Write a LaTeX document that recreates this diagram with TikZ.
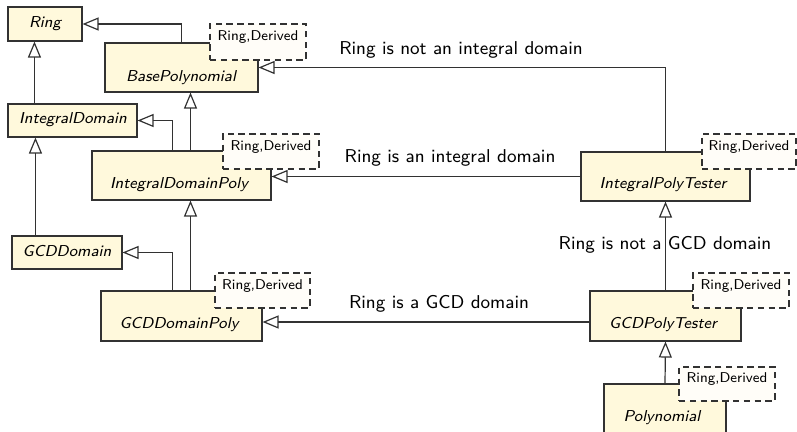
\documentclass[tikz,border=0pt]{standalone}
\usepackage{fontspec}
\usetikzlibrary{arrows.meta,fit}
\definecolor{classfill}{RGB}{255,249,220}
\definecolor{tplfill}{RGB}{255,253,248}
\definecolor{lineclr}{RGB}{50,50,50}
\tikzset{
  classbox/.style={draw=lineclr, line width=0.55pt, fill=classfill, inner sep=0pt},
  tplbox/.style={draw=lineclr, line width=0.55pt, fill=tplfill, inner sep=0pt,
    dash pattern=on 3.2pt off 2.2pt, font=\sffamily\fontsize{7.1}{8}\selectfont},
  cname/.style={font=\sffamily\itshape\fontsize{7.9}{9}\selectfont, inner sep=0pt},
  elabel/.style={font=\sffamily\fontsize{9.3}{11}\selectfont, inner sep=0pt},
  gen/.style={draw=lineclr, line width=0.6pt,
    -{Triangle[open, length=8pt, width=6.5pt, fill=white]}}
}
\begin{document}
\begin{tikzpicture}[x=0.5pt,y=-0.5pt]
\useasboundingbox (0,0) rectangle (797,432);

% class boxes
\node[classbox, fit={(8,7) (82,41)}] (ring) {};
\node[cname] (ringt) at (45,24) {Ring};

\node[classbox, fit={(105,43) (258,92)}] (bp) {};
\node[cname] (bpt) at (181,78) {BasePolynomial};
\node[tplbox, fit={(210,24) (306,60)}] (bpd) {Ring,Derived};

\node[classbox, fit={(8,104) (137,137)}] (id) {};
\node[cname] (idt) at (73,120) {IntegralDomain};

\node[classbox, fit={(92,151) (271,200)}] (idp) {};
\node[cname] (idpt) at (179,185) {IntegralDomainPoly};
\node[tplbox, fit={(223,134) (319,169)}] (idpd) {Ring,Derived};

\node[classbox, fit={(12,236) (122,269)}] (gcdd) {};
\node[cname] (gcddt) at (67,251) {GCDDomain};

\node[classbox, fit={(101,291) (262,341)}] (gcddp) {};
\node[cname] (gcddpt) at (179,325) {GCDDomainPoly};
\node[tplbox, fit={(215,273) (310,308)}] (gcddpd) {Ring,Derived};

\node[classbox, fit={(581,152) (750,201)}] (ipt) {};
\node[cname] (iptt) at (663,185) {IntegralPolyTester};
\node[tplbox, fit={(702,134) (796,169)}] (iptd) {Ring,Derived};

\node[classbox, fit={(590,291) (741,341)}] (gpt) {};
\node[cname] (gptt) at (663,325) {GCDPolyTester};
\node[tplbox, fit={(693,273) (789,308)}] (gptd) {Ring,Derived};

\node[classbox, fit={(604,384) (726,436)}] (poly) {};
\node[cname] (polyt) at (662,418) {Polynomial};
\node[tplbox, fit={(679,367) (775,401)}] (polyd) {Ring,Derived};

% connectors
\draw[gen] (bp.north) |- (ring.east);
\draw[gen] ([xshift=13.5pt]id.north west) -- ([xshift=13.5pt]id.north west |- ring.south);
\draw[gen] ([xshift=12pt]gcdd.north west) -- ([xshift=12pt]gcdd.north west |- id.south);
\draw[gen] ([xshift=-4.5pt]idp.north) |- (id.east);
\draw[gen] ([xshift=4.5pt]idp.north) -- ([xshift=4.5pt]bp.south);
\draw[gen] ([xshift=-4.5pt]gcddp.north) |- (gcdd.east);
\draw[gen] ([xshift=4.5pt]gcddp.north) -- ([xshift=4.5pt]idp.south);

\draw[gen] (ipt.north) |- (bp.east);
\draw[gen] (ipt.west) -- (ipt.west -| idp.east);
\draw[gen] ([yshift=-3pt]gpt.west) -- ([yshift=-3pt]gpt.west -| gcddp.east);
\draw[gen] (gpt.north) -- (ipt.south);
\draw[gen] (poly.north) -- (gpt.south);

% labels
\node[elabel] (l1) at (461,50) {Ring is not an integral domain};
\node[elabel] (l2) at (450,158) {Ring is an integral domain};
\node[elabel] (l3) at (665,245) {Ring is not a GCD domain};
\node[elabel] (l4) at (439,304) {Ring is a GCD domain};
\end{tikzpicture}
\end{document}
